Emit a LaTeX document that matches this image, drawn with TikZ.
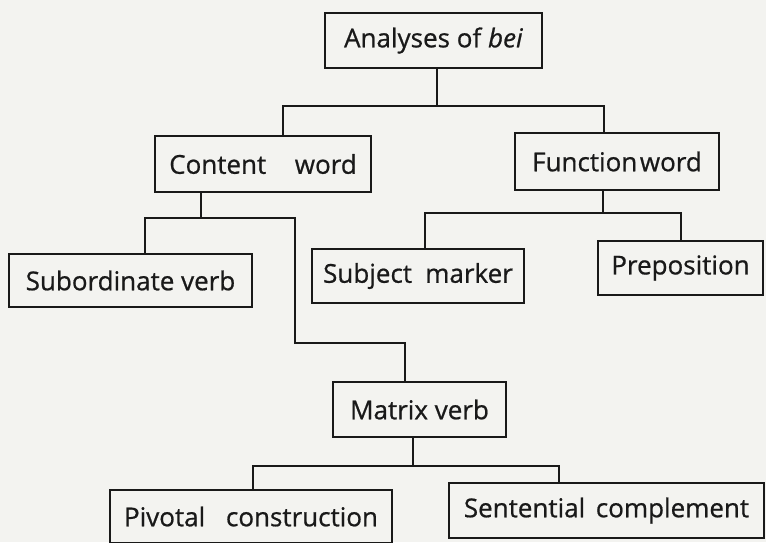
\documentclass[tikz,border=0pt]{standalone}
\usepackage{fontspec}
\setmainfont{Open Sans}[FakeBold=0.7]
\usetikzlibrary{positioning}
\definecolor{paper}{RGB}{243,243,240}
\definecolor{ink}{RGB}{25,25,25}

\begin{document}
\begin{tikzpicture}[x=1pt,y=-1pt]
\tikzstyle{every node}=[font=\fontsize{26}{30}\selectfont, text=ink]
\tikzstyle{cat}=[draw=ink, line width=2pt, inner sep=0pt, fill=paper]
\tikzstyle{branch}=[draw=ink, line width=2pt]

\fill[paper] (0,0) rectangle (766,542);
\useasboundingbox (0,0) rectangle (766,542);

% categories
\node[cat, minimum width=217pt, minimum height=55pt] (bei) at (433.5,40.5) {Analyses of \textit{bei}};
\node[cat, minimum width=216pt, minimum height=56pt] (content) at (263,164) {Content\hspace{1.1em}word};
\node[cat, minimum width=204pt, minimum height=57pt] (function) at (617,161.5) {Function\hspace{0.1em}word};
\node[cat, minimum width=243pt, minimum height=53pt] (subverb) at (130.5,280.5) {Subordinate verb};
\node[cat, minimum width=212pt, minimum height=54pt] (submark) at (418,276) {Subject\hspace{0.25em} marker};
\node[cat, minimum width=165pt, minimum height=54pt] (prep) at (680.5,268) {Preposition};
\node[cat, minimum width=173pt, minimum height=55pt] (matrix) at (419.5,409.5) {Matrix verb};
\node[cat, minimum width=282pt, minimum height=53pt] (pivotal) at (251,516.5) {Pivotal\hspace{0.8em}construction};
\node[cat, minimum width=315pt, minimum height=55pt] (sentential) at (606.5,510.5) {Sentential\hspace{0.15em} complement};

% branch points
\coordinate (bw) at ([xshift=3.5pt,yshift=-37pt]bei.south);
\coordinate (cw) at ([xshift=-62pt,yshift=-25pt]content.south);
\coordinate (fw) at ([xshift=-14pt,yshift=-22pt]function.south);
\coordinate (mw) at ([xshift=-6.5pt,yshift=-28pt]matrix.south);
\coordinate (elbow) at (295,343);

% tree lines
\draw[branch] ([xshift=3.5pt]bei.south) -- (bw);
\draw[branch] ([xshift=20pt]content.north) |- (bw) -| ([xshift=-13pt]function.north);
\draw[branch] ([xshift=-62pt]content.south) -- (cw);
\draw[branch] ([xshift=14.5pt]subverb.north) |- (cw) -| (elbow) -| ([xshift=-14.5pt]matrix.north);
\draw[branch] ([xshift=-14pt]function.south) -- (fw);
\draw[branch] ([xshift=7pt]submark.north) |- (fw) -| ([xshift=0.5pt]prep.north);
\draw[branch] ([xshift=-6.5pt]matrix.south) -- (mw);
\draw[branch] ([xshift=2pt]pivotal.north) |- (mw) -| ([xshift=-47.5pt]sentential.north);
\end{tikzpicture}
\end{document}
